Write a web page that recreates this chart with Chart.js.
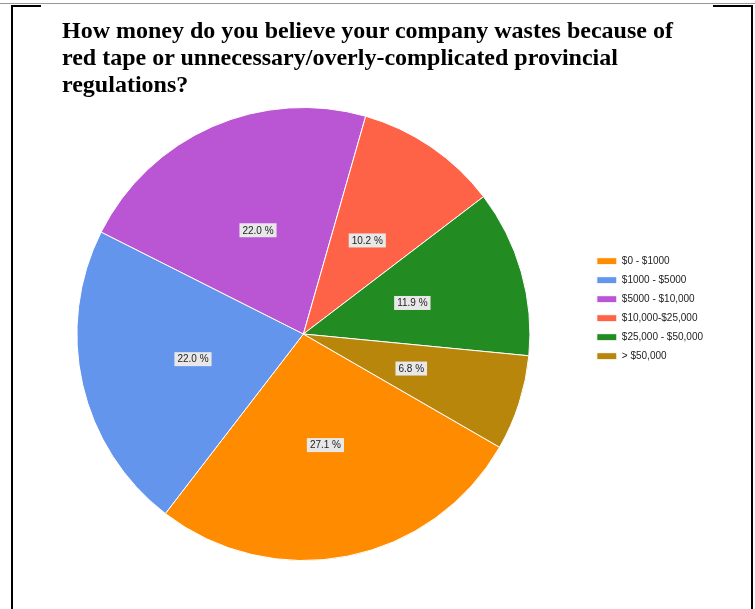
<!DOCTYPE html>
<html>
<head>
<meta charset="utf-8">
<script src="https://cdn.jsdelivr.net/npm/chart.js@4.4.1/dist/chart.umd.min.js"></script>
<style>
  html, body { margin: 0; padding: 0; background: #fff; }
  #wrap { position: relative; width: 755px; height: 609px; overflow: hidden; }
  #chart { position: absolute; left: 0; top: 0; }
  .ln { position: absolute; }
  #title {
    position: absolute; left: 62px; top: 17px;
    font: bold 24px "Liberation Serif", "Times New Roman", serif;
    line-height: 27px; color: #000; white-space: nowrap;
  }
</style>
</head>
<body>
<div id="wrap">
  <canvas id="chart" width="755" height="609"></canvas>
  <div class="ln" style="left:0;top:3px;width:755px;height:1px;background:#999"></div>
  <div class="ln" style="left:11px;top:5px;width:30px;height:2px;background:#000"></div>
  <div class="ln" style="left:11px;top:5px;width:2px;height:604px;background:#000"></div>
  <div class="ln" style="left:713px;top:5px;width:40px;height:2px;background:#000"></div>
  <div class="ln" style="left:751px;top:5px;width:2px;height:604px;background:#000"></div>
  <div id="title">How money do you believe your company wastes because of<br>red tape or unnecessary/overly-complicated provincial<br>regulations?</div>
</div>
<script>
const categories = ['$0 - $1000', '$1000 - $5000', '$5000 - $10,000', '$10,000-$25,000', '$25,000 - $50,000', '> $50,000'];
const percents = [27.1, 22.0, 22.0, 10.2, 11.9, 6.8];
const colors = ['#FF8C00', '#6495ED', '#BA55D3', '#FF6347', '#228B22', '#B8860B'];

// grey boxed percentage labels at the middle of each slice
const sliceLabels = {
  id: 'sliceLabels',
  afterDatasetsDraw(chart) {
    const ctx = chart.ctx;
    const meta = chart.getDatasetMeta(0);
    ctx.save();
    ctx.font = '10px "Liberation Sans", Arial, sans-serif';
    ctx.textAlign = 'center';
    ctx.textBaseline = 'middle';
    meta.data.forEach((arc, i) => {
      const p = arc.getCenterPoint();
      const txt = percents[i].toFixed(1) + ' %';
      const w = ctx.measureText(txt).width + 6;
      const h = 14;
      ctx.fillStyle = '#e8e8e8';
      ctx.fillRect(p.x - w / 2, p.y - h / 2, w, h);
      ctx.fillStyle = '#222';
      ctx.fillText(txt, p.x, p.y + 0.5);
    });
    ctx.restore();
  }
};

new Chart(document.getElementById('chart'), {
  type: 'pie',
  data: {
    labels: categories,
    datasets: [{
      data: percents,
      backgroundColor: colors,
      borderColor: '#ffffff',
      borderWidth: 1
    }]
  },
  options: {
    responsive: false,
    animation: false,
    rotation: 120,
    layout: { padding: { top: 107, bottom: 48, left: 19, right: 42 } },
    plugins: {
      tooltip: { enabled: false },
      legend: {
        position: 'right',
        align: 'start',
        title: { display: true, text: ' ', font: { size: 1 }, padding: { top: 0, bottom: 139 } },
        labels: {
          boxWidth: 20,
          boxHeight: 7,
          padding: 9,
          color: '#222',
          font: { family: '"Liberation Sans", Arial, sans-serif', size: 10 }
        }
      }
    }
  },
  plugins: [sliceLabels]
});
</script>
</body>
</html>
